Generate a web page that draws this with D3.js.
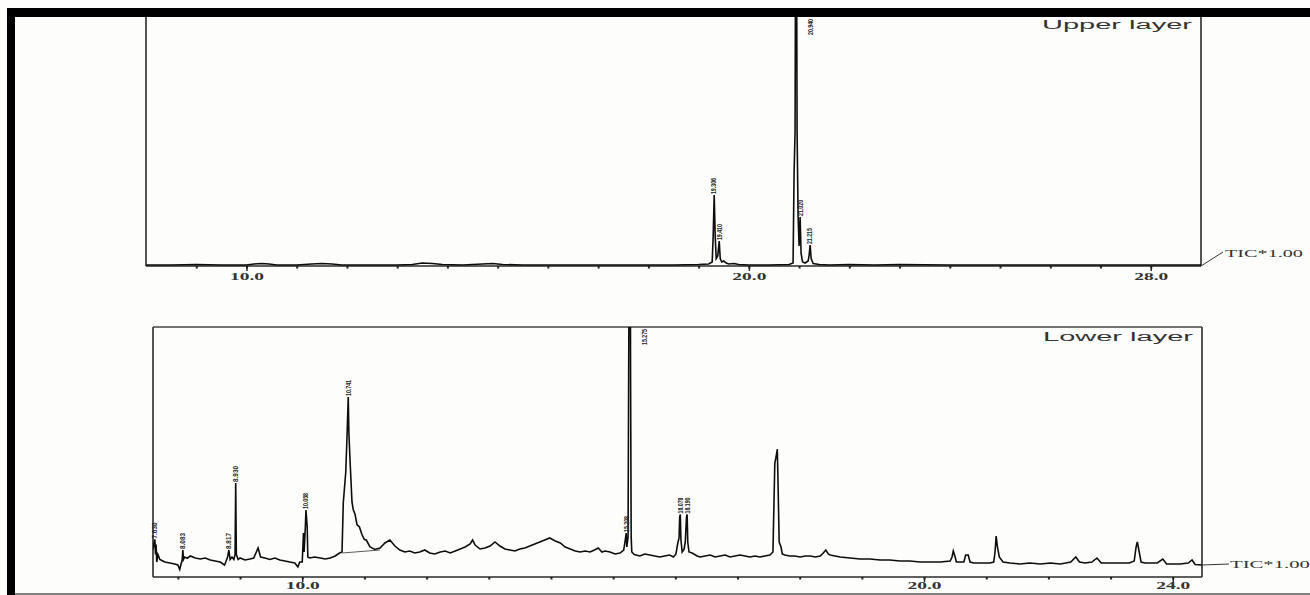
<!DOCTYPE html>
<html><head><meta charset="utf-8">
<script src="https://cdn.jsdelivr.net/npm/d3@7"></script>
<style>body{margin:0;background:#fdfdfb}svg{display:block}</style>
</head><body>
<svg id="c" width="1310" height="595"></svg>
<script>
// ---------- DATA ----------
const upperRT  = [8.00,8.50,9.00,9.50,10.00,10.15,10.30,10.45,10.60,11.00,11.30,11.50,11.70,11.90,12.50,13.00,13.30,13.50,13.70,13.90,14.30,14.70,14.90,15.10,15.50,16.00,16.50,17.00,17.50,18.00,18.50,19.00,19.20,19.27,19.29,19.31,19.33,19.35,19.38,19.41,19.43,19.46,19.50,19.55,19.60,19.70,19.80,20.00,20.40,20.80,20.88,20.90,20.92,20.94,20.96,20.98,21.00,21.02,21.04,21.07,21.12,21.18,21.20,21.22,21.24,21.28,21.40,21.60,22.00,22.50,23.00,24.00,25.00,26.00,27.00,28.00,29.00];
const upperTIC = [0.4,0.4,0.6,0.4,0.4,0.8,1.0,0.8,0.4,0.4,0.8,1.0,0.8,0.4,0.4,0.4,0.6,1.2,1.0,0.6,0.4,0.8,1.0,0.6,0.4,0.4,0.4,0.4,0.4,0.4,0.4,0.6,0.8,1.6,12,28.5,12,3,4,10,3,1.6,2,1.2,0.8,1.0,0.6,0.4,0.4,0.6,1.2,37,54,200,54,20,8,19.7,5,1.6,1.2,2,4.4,8.4,3,1,0.6,0.4,0.6,0.4,0.6,0.4,0.4,0.4,0.4,0.4,0.4];

const lowerRT  = [7.60,7.62,7.63,7.64,7.65,7.66,7.68,7.71,7.75,7.79,7.87,7.95,8.00,8.03,8.05,8.07,8.08,8.09,8.11,8.15,8.20,8.28,8.36,8.44,8.52,8.60,8.68,8.75,8.77,8.80,8.82,8.84,8.87,8.90,8.92,8.93,8.94,8.97,9.00,9.08,9.16,9.22,9.29,9.33,9.40,9.48,9.56,9.64,9.72,9.80,9.88,9.93,9.96,10.00,10.02,10.03,10.05,10.06,10.08,10.09,10.12,10.20,10.29,10.37,10.45,10.53,10.60,10.64,10.66,10.70,10.72,10.74,10.75,10.77,10.80,10.82,10.85,10.88,10.92,10.96,11.00,11.03,11.09,11.17,11.25,11.33,11.41,11.49,11.57,11.65,11.73,11.81,11.89,11.97,12.05,12.13,12.22,12.30,12.38,12.46,12.54,12.62,12.70,12.74,12.78,12.86,12.94,13.02,13.10,13.18,13.26,13.34,13.42,13.50,13.58,13.66,13.74,13.82,13.90,13.98,14.07,14.15,14.23,14.31,14.39,14.47,14.55,14.63,14.70,14.76,14.82,14.87,14.95,15.03,15.11,15.17,15.19,15.21,15.22,15.24,15.25,15.27,15.28,15.29,15.30,15.34,15.43,15.51,15.59,15.67,15.75,15.83,15.91,15.97,16.01,16.04,16.06,16.07,16.08,16.09,16.11,16.14,16.16,16.18,16.19,16.20,16.22,16.27,16.35,16.40,16.48,16.56,16.64,16.72,16.80,16.88,16.96,17.04,17.12,17.20,17.28,17.36,17.44,17.52,17.57,17.60,17.62,17.64,17.65,17.67,17.70,17.72,17.76,17.84,17.92,18.01,18.09,18.17,18.25,18.33,18.38,18.42,18.46,18.49,18.57,18.65,18.81,18.97,19.13,19.29,19.45,19.61,19.77,19.94,20.10,20.26,20.42,20.45,20.47,20.50,20.52,20.58,20.64,20.67,20.71,20.74,20.80,20.90,21.06,21.12,21.14,21.16,21.18,21.21,21.27,21.38,21.54,21.70,21.87,22.03,22.19,22.28,22.36,22.44,22.50,22.59,22.70,22.78,22.85,22.99,23.15,23.30,23.38,23.41,23.43,23.46,23.49,23.55,23.63,23.75,23.84,23.90,24.00,24.12,24.25,24.31,24.36,24.47];
const lowerTIC = [11,14,15,9,13,6,9,7,6.5,6,5.6,5.2,4.8,3,5,7,10.8,7,8,7.5,8.4,7.6,7.2,7.6,6.8,6.4,6,4.8,6,8,10.8,7,8,7,9,37.6,9,7,7.6,6.8,7.2,7.6,11.6,8,7.6,7,7.6,6.8,6.4,6,5.6,4,6,6,17.6,10,20,26.8,20,8,7.6,8,7.6,7.2,7.6,8.4,9.6,10,29.6,42,56,72,58,46,30,27,25,21,20,17,15,14.8,12,11,11.6,13.6,14.8,12.4,10.8,10,10.4,9.6,10,10.8,9.6,9.2,10,10.4,9.6,10.4,11.2,12,13.2,14.8,12.8,11.2,11.6,12.4,14,12.4,11.2,10.8,10.4,11.2,11.6,12.4,13.2,14,14.8,15.6,14.4,13.6,12,11.2,10.4,10,10.4,10,10.8,11.6,10,10.4,10,9.2,9.6,10.8,14,17.6,12,16,84,200,84,16,10,9,8.4,9.2,8.8,8.4,8,8.4,8.8,8,9.2,13.6,15.6,24,25,15,10,11,14,24,25,14,10,9.6,8.4,8,8.4,8.8,8,8.4,8.8,8,8.4,8.8,8.4,8,8.4,8,8.4,8.8,10,45.6,48,51.2,40,14,12,9.2,8.8,8.4,8.4,8,8.4,8.4,8,8.4,9.6,10.8,9.2,8.8,8.4,8,7.6,7.2,7.2,6.8,6.8,6.4,6.4,6,6,6,6.4,8,10.4,8,6,6,6,8.8,8.8,6,5.6,5.6,5.6,6,9.6,16.4,12,8,6,5.6,5.2,5.6,5.2,5.6,5.2,5.6,6,8,6,5.6,6,7.6,5.6,5.6,5.6,5.6,6.4,12,14,10,6,5.6,5.6,5.6,7.2,5.2,5.2,5.2,5.6,6.8,5,4.8];

// integration baseline drawn under the broad 10.74 peak
const lowerBaseRT  = [10.64, 11.25];
const lowerBaseTIC = [9.6, 10.8];

const upperPeakLabels = ["19.306","19.410","20.940","21.020","21.215"];
const lowerPeakLabels = ["7.630","8.083","8.817","8.930","10.058","10.741","15.208","15.275","16.078","16.190"];

const upperMajorTicks = [10, 20, 28];
const lowerMajorTicks = [10, 20, 24];
const upperMinorTicks = d3.range(9, 29, 1);
const lowerMinorTicks = d3.range(8, 25, 1);

const titles = ["Upper layer", "Lower layer"];
const ticLabel = "TIC*1.00";

// ---------- DRAW ----------
const svg = d3.select("#c");
svg.append("rect").attr("width",1310).attr("height",595).attr("fill","#fdfdfb");

const panels = [
  {rt:upperRT, tic:upperTIC, labels:upperPeakLabels, major:upperMajorTicks, minor:upperMinorTicks,
   dom:[8,29], x0:146, x1:1201, y0:17, y1:266, title:titles[0], top:false, tic2:"diag", pad:2},
  {rt:lowerRT, tic:lowerTIC, labels:lowerPeakLabels, major:lowerMajorTicks, minor:lowerMinorTicks,
   dom:[7.6,24.47], x0:153, x1:1202, y0:327, y1:577, title:titles[1], top:true, tic2:"flat", pad:0}
];

panels.forEach((p,i)=>{
  const x = d3.scaleLinear().domain(p.dom).range([p.x0,p.x1]);
  const y = d3.scaleLinear().domain([0,100]).range([p.y1,p.y0]);
  const g = svg.append("g");
  const cid = "clip"+i;
  svg.append("clipPath").attr("id",cid).append("rect")
     .attr("x",p.x0).attr("y",p.y0).attr("width",p.x1-p.x0).attr("height",p.y1-p.y0+6);

  // frame
  const fr = g.append("g").attr("stroke","#2a2a2a").attr("stroke-width",1.6).attr("fill","none");
  fr.append("line").attr("x1",p.x0).attr("x2",p.x0).attr("y1",p.y0).attr("y2",p.y1);
  fr.append("line").attr("x1",p.x1).attr("x2",p.x1).attr("y1",p.y0).attr("y2",p.y1);
  fr.append("line").attr("x1",p.x0).attr("x2",p.x1).attr("y1",p.y1).attr("y2",p.y1);
  if(p.top) fr.append("line").attr("x1",p.x0).attr("x2",p.x1).attr("y1",p.y0).attr("y2",p.y0).attr("stroke","#444");

  // axes
  const minorAx = g.append("g").attr("transform",`translate(0,${p.y1})`)
     .call(d3.axisBottom(x).tickValues(p.minor).tickSize(2.5).tickFormat(""));
  minorAx.select(".domain").remove();
  minorAx.selectAll("line").attr("stroke","#222").attr("stroke-width",2);
  const majorAx = g.append("g").attr("transform",`translate(0,${p.y1})`)
     .call(d3.axisBottom(x).tickValues(p.major).tickSize(5).tickPadding(p.pad).tickFormat(d3.format(".1f")));
  majorAx.select(".domain").remove();
  majorAx.selectAll("line").attr("stroke","#222").attr("stroke-width",1.4);
  majorAx.selectAll("text").attr("font-family","Liberation Serif, serif").attr("font-size",10)
     .attr("font-weight","bold").attr("fill","#333").attr("textLength",34).attr("lengthAdjust","spacingAndGlyphs");

  // trace
  const pts = p.rt.map((t,k)=>[t,p.tic[k]]);
  const line = d3.line().x(d=>x(d[0])).y(d=>y(d[1]));
  g.append("path").datum(pts).attr("clip-path",`url(#${cid})`)
    .attr("d",line).attr("fill","none").attr("stroke","#0d0d0d").attr("stroke-width",1.6)
    .attr("stroke-linejoin","miter");

  if(i===1){
    g.append("path").datum(lowerBaseRT.map((t,k)=>[t,lowerBaseTIC[k]]))
     .attr("d",line).attr("fill","none").attr("stroke","#333").attr("stroke-width",0.8);
  }

  // peak labels
  p.labels.forEach(lbl=>{
    const t = +lbl;
    let best = 0;
    pts.forEach(d=>{ if(Math.abs(d[0]-t)<=0.016 && d[1]>best) best=d[1]; });
    let lx, ly, anchor;
    if(best>100){ lx = x(t)+14; ly = p.y0+2; anchor="end"; }
    else { lx = x(t); ly = y(best)-1; anchor="start"; }
    g.append("text").attr("transform",`translate(${lx},${ly}) rotate(-90)`)
     .attr("dy","0.35em").attr("text-anchor",anchor)
     .attr("font-family","Liberation Sans Narrow, Liberation Sans, Arial, sans-serif")
     .attr("font-size",7).attr("font-weight","bold").attr("fill","#222")
     .attr("textLength",16).attr("lengthAdjust","spacingAndGlyphs").text(lbl);
  });

  // title
  g.append("text").attr("x",p.x1-159).attr("y",p.y0+(i===0?12:14))
   .attr("font-family","Liberation Sans, Arial, sans-serif").attr("font-size",12.5)
   .attr("fill","#333").attr("textLength",150).attr("lengthAdjust","spacingAndGlyphs").text(p.title);

  // TIC label + connector
  const endY = y(p.tic[p.tic.length-1]);
  if(p.tic2==="diag"){
    g.append("line").attr("x1",p.x1).attr("y1",p.y1).attr("x2",p.x1+22).attr("y2",p.y1-14)
     .attr("stroke","#333").attr("stroke-width",1);
    g.append("text").attr("x",p.x1+24).attr("y",p.y1-9).attr("font-family","Liberation Serif, serif")
     .attr("font-size",11).attr("fill","#333").attr("textLength",78).attr("lengthAdjust","spacingAndGlyphs").text(ticLabel);
  } else {
    g.append("line").attr("x1",p.x1).attr("y1",endY).attr("x2",p.x1+27).attr("y2",endY-1)
     .attr("stroke","#333").attr("stroke-width",1);
    g.append("text").attr("x",p.x1+28).attr("y",endY+3).attr("font-family","Liberation Serif, serif")
     .attr("font-size",11).attr("fill","#333").attr("textLength",80).attr("lengthAdjust","spacingAndGlyphs").text(ticLabel);
  }
});

// outer frame
svg.append("rect").attr("x",7).attr("y",8).attr("width",1303).attr("height",9).attr("fill","#000");
svg.append("rect").attr("x",7).attr("y",8).attr("width",8).attr("height",587).attr("fill","#000");
svg.append("line").attr("x1",15).attr("x2",1310).attr("y1",594).attr("y2",594).attr("stroke","#555").attr("stroke-width",1.5);
</script>
</body></html>
